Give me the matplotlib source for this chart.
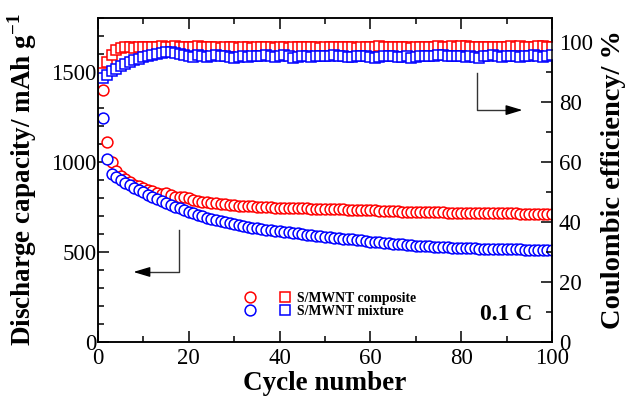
import numpy as np
import matplotlib
matplotlib.use("Agg")
import matplotlib.pyplot as plt
from matplotlib.legend_handler import HandlerTuple

plt.rcParams['font.family'] = ['Liberation Serif', 'DejaVu Serif']
plt.rcParams['mathtext.fontset'] = 'custom'
plt.rcParams['mathtext.rm'] = 'Liberation Serif'
plt.rcParams['mathtext.bf'] = 'Liberation Serif:bold'

ciclos = np.arange(1, 101)

# capacidad de descarga (mAh/g)
cap_composite = [
    1400, 1110, 1000, 950, 925, 905, 890, 875, 865, 855,
    845, 838, 830, 825, 828, 815, 808, 805, 803, 800,
    790, 785, 780, 778, 775, 772, 768, 765, 762, 760,
    758, 756, 755, 754, 752, 750, 749, 748, 747, 746,
    745, 744, 744, 743, 742, 742, 741, 740, 740, 739,
    739, 738, 738, 737, 736, 736, 735, 734, 733, 732,
    731, 730, 729, 728, 727, 726, 725, 724, 723, 722,
    722, 721, 721, 720, 720, 720, 719, 719, 718, 718,
    718, 717, 717, 717, 716, 716, 715, 715, 715, 714,
    714, 714, 713, 713, 712, 712, 712, 711, 711, 710,
]
cap_mixture = [
    1244, 1017, 933, 915, 900, 886, 872, 858, 845, 832,
    818, 806, 795, 783, 772, 762, 752, 742, 732, 722,
    714, 706, 698, 691, 685, 679, 673, 667, 661, 655,
    650, 645, 640, 635, 631, 627, 624, 621, 618, 615,
    612, 609, 606, 603, 600, 597, 594, 591, 588, 585,
    582, 580, 578, 575, 572, 570, 567, 564, 561, 558,
    556, 553, 551, 549, 546, 544, 542, 540, 538, 536,
    534, 532, 531, 529, 528, 527, 526, 524, 523, 522,
    521, 520, 520, 519, 518, 518, 517, 516, 516, 515,
    515, 514, 514, 513, 513, 512, 512, 512, 511, 511,
]

# eficiencia coulombica (%)
ce_composite = [
    89.7, 93.3, 95.7, 97.5, 98.0, 98.2, 98.3, 97.9, 98.3, 98.4,
    98.2, 98.5, 98.3, 98.6, 98.4, 98.2, 98.6, 98.5, 98.3, 98.4,
    98.5, 98.6, 98.4, 98.2, 98.3, 98.5, 98.1, 98.4, 98.2, 98.3,
    98.1, 98.4, 98.2, 98.0, 98.3, 98.4, 98.2, 98.5, 98.1, 98.3,
    98.2, 97.9, 98.3, 98.4, 98.2, 98.5, 98.3, 98.4, 98.0, 98.3,
    98.5, 98.3, 98.4, 98.2, 98.5, 98.3, 98.1, 98.3, 98.4, 98.2,
    98.5, 98.6, 98.4, 98.3, 98.5, 98.2, 98.4, 98.3, 98.1, 98.3,
    98.2, 98.4, 98.5, 98.3, 98.6, 98.5, 98.4, 98.6, 98.5, 98.7,
    98.6, 98.4, 98.2, 98.5, 98.3, 98.4, 98.2, 98.5, 98.3, 98.4,
    98.6, 98.5, 98.7, 98.4, 98.5, 98.3, 98.6, 98.7, 98.5, 98.2,
]
ce_mixture = [
    88.0, 89.0, 90.3, 91.0, 92.0, 92.7, 93.3, 94.0, 94.5, 95.0,
    95.4, 95.7, 96.0, 96.3, 96.6, 96.7, 96.4, 96.0, 95.7, 95.3,
    95.0, 95.6, 95.3, 95.0, 95.3, 95.6, 95.2, 95.4, 95.0, 94.8,
    95.0, 95.3, 94.9, 95.2, 95.5, 95.3, 95.6, 95.4, 95.1, 95.5,
    95.6, 95.2, 94.6, 95.0, 95.4, 95.3, 95.0, 95.2, 95.4, 95.5,
    95.3, 95.6, 95.4, 95.2, 95.1, 94.9, 95.3, 95.5, 95.2, 95.0,
    94.8, 95.0, 95.3, 95.5, 95.4, 95.1, 95.0, 95.2, 94.8, 95.0,
    95.3, 95.5, 95.2, 95.4, 95.6, 95.8, 95.5, 95.3, 95.5, 95.3,
    95.1, 95.4, 95.0, 94.8, 95.2, 95.5, 95.6, 95.3, 95.0, 95.4,
    95.5, 95.2, 95.0, 95.5, 95.3, 95.6, 95.4, 95.1, 95.5, 95.6,
]

etiquetas = ["S/MWNT composite", "S/MWNT mixture"]
colores = ["#ff0000", "#0000ff"]

fig = plt.figure(figsize=(6.26, 4.0), dpi=100)
ax = fig.add_axes([0.1565, 0.145, 0.7253, 0.81])
ax2 = ax.twinx()

estilo = dict(linestyle='none', markersize=7.8, markeredgewidth=1.1,
              markerfacecolor='white')

circulos = []
for cap, c in zip([cap_composite, cap_mixture], colores):
    l, = ax.plot(ciclos, cap, marker='o', markeredgecolor=c, **estilo)
    circulos.append(l)
cuadros = []
for ce, c in zip([ce_composite, ce_mixture], colores):
    l, = ax2.plot(ciclos, ce, marker='s', markeredgecolor=c, **estilo)
    cuadros.append(l)

ax.set_xlim(0, 100)
ax.set_ylim(0, 1800)
ax2.set_ylim(0, 108)
ax.set_xticks(np.arange(0, 101, 20))
ax.set_xticks(np.arange(0, 101, 10), minor=True)
ax.set_yticks([0, 500, 1000, 1500])
ax.set_yticks(np.arange(0, 1801, 100), minor=True)
ax2.set_yticks(np.arange(0, 101, 20))
ax2.set_yticks(np.arange(0, 108, 10), minor=True)

for a in (ax, ax2):
    a.tick_params(which='both', direction='in', width=1.1, labelsize=16.5)
    a.tick_params(which='major', length=8)
    a.tick_params(which='minor', length=4.5)
    for s in a.spines.values():
        s.set_linewidth(1.1)
ax.tick_params(axis='x', which='both', top=True, pad=4)
ax.tick_params(axis='y', which='both', right=False, pad=1)
ax2.tick_params(axis='y', pad=5)

ax.set_xlabel("Cycle number", fontsize=19.5, fontweight='bold', labelpad=2)
ax.set_ylabel(r"Discharge capacity/ mAh g$^{\mathbf{-1}}$", fontsize=19.5,
              fontweight='bold', labelpad=9)
ax2.set_ylabel("Coulombic efficiency/ %", fontsize=20.5, fontweight='bold',
               labelpad=6)

# flechas indicando el eje de cada serie
ax.plot([17.8, 17.8, 10.5], [622, 389, 389], color='#333333', lw=1.0)
ax.annotate("", xy=(7.8, 389), xytext=(11, 389),
            arrowprops=dict(arrowstyle='-|>,head_length=1.0,head_width=0.3',
                            color='black', lw=1.0, shrinkA=0, shrinkB=0))
ax2.plot([83.5, 83.5, 90.5], [89.7, 77.3, 77.3], color='#333333', lw=1.0)
ax2.annotate("", xy=(93.5, 77.3), xytext=(90, 77.3),
             arrowprops=dict(arrowstyle='-|>,head_length=1.0,head_width=0.3',
                             color='black', lw=1.0, shrinkA=0, shrinkB=0))

ax2.text(0.957, 0.085, "0.1 C", transform=ax.transAxes, ha='right',
         va='center', fontsize=17, fontweight='bold')

ax2.legend([(circulos[0], cuadros[0]), (circulos[1], cuadros[1])], etiquetas,
           handler_map={tuple: HandlerTuple(ndivide=None, pad=1.3)},
           loc='center left', bbox_to_anchor=(0.3, 0.115), frameon=False,
           prop=dict(size=9.9, weight='bold'), handlelength=3.8,
           handletextpad=0.3, labelspacing=0.0, borderpad=0)

fig.savefig("out.png", dpi=100)
